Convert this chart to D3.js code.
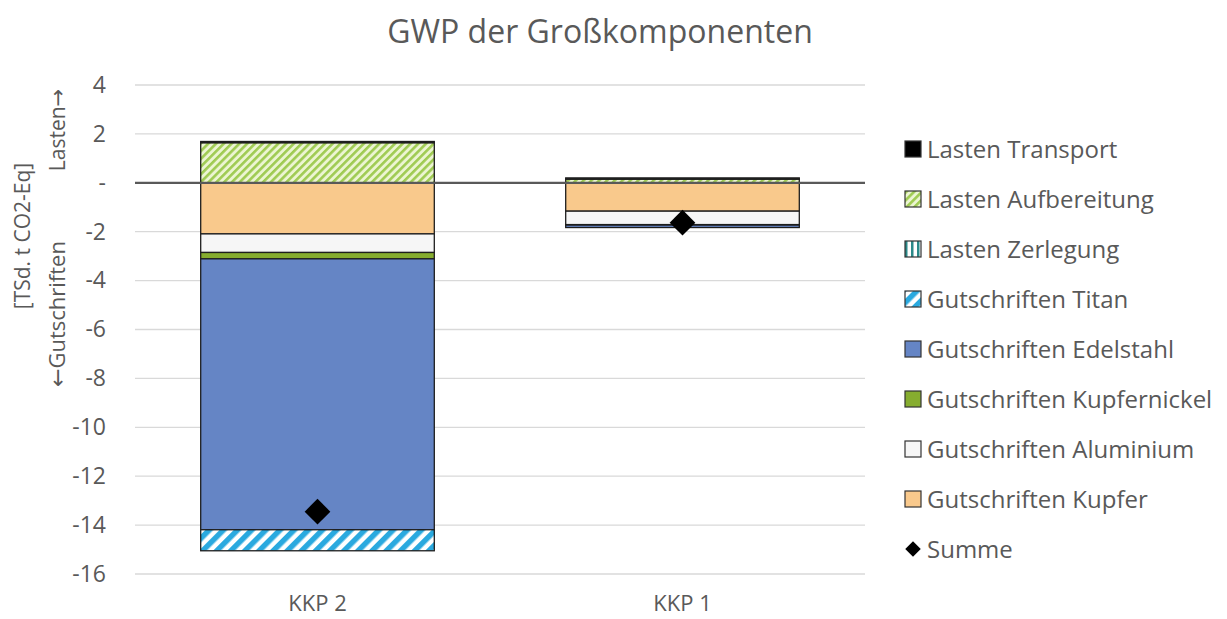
<!DOCTYPE html>
<html lang="de">
<head>
    <meta charset="UTF-8">
    <title>GWP der Großkomponenten</title>
    <script src="https://cdn.jsdelivr.net/npm/d3@7/dist/d3.min.js"></script>
    <style>
        body { margin: 0; background: #fff; }
        text { font-family: "Open Sans", sans-serif; fill: #595959; }
        .arrow { font-family: "DejaVu Sans", sans-serif; }
    </style>
</head>
<body>
    <div class="chart"></div>
</body>
<script>
    const categories = ['KKP 2', 'KKP 1']
    // stacking order = Excel series order (first one sits next to zero)
    const gutschriftenKupfer = [-2.09, -1.16]
    const gutschriftenAluminium = [-0.76, -0.55]
    const gutschriftenKupfernickel = [-0.26, -0.02]
    const gutschriftenEdelstahl = [-11.08, -0.1]
    const gutschriftenTitan = [-0.86, 0]
    const lastenZerlegung = [0, 0]
    const lastenAufbereitung = [1.64, 0.15]
    const lastenTransport = [0.05, 0.05]
    const summe = [-13.45, -1.63]
    const yTicks = [4, 2, 0, -2, -4, -6, -8, -10, -12, -14, -16]

    const series = [
        { key: 'Gutschriften Kupfer', values: gutschriftenKupfer, fill: '#f9c98c' },
        { key: 'Gutschriften Aluminium', values: gutschriftenAluminium, fill: '#f6f6f6' },
        { key: 'Gutschriften Kupfernickel', values: gutschriftenKupfernickel, fill: '#86ad2f' },
        { key: 'Gutschriften Edelstahl', values: gutschriftenEdelstahl, fill: '#6585c5' },
        { key: 'Gutschriften Titan', values: gutschriftenTitan, fill: 'url(#hatch-titan)' },
        { key: 'Lasten Zerlegung', values: lastenZerlegung, fill: 'url(#hatch-zerlegung)' },
        { key: 'Lasten Aufbereitung', values: lastenAufbereitung, fill: 'url(#hatch-aufbereitung)' },
        { key: 'Lasten Transport', values: lastenTransport, fill: '#000' }
    ]

    const width = 1227
    const height = 619
    const plot = { left: 135, right: 865, top: 85, bottom: 574 }

    const svg = d3.select('.chart')
        .append('svg')
        .attr('width', width)
        .attr('height', height)

    // hatch patterns
    const defs = svg.append('defs')
    function hatch(id, bg, fg, size, stripe, angle) {
        const p = defs.append('pattern')
            .attr('id', id)
            .attr('patternUnits', 'userSpaceOnUse')
            .attr('width', size)
            .attr('height', size)
            .attr('patternTransform', `rotate(${angle})`)
        p.append('rect').attr('width', size).attr('height', size).attr('fill', bg)
        p.append('rect').attr('width', stripe).attr('height', size).attr('fill', fg)
    }
    hatch('hatch-aufbereitung', '#ecf5d2', '#9fcb52', 5.5, 2.6, 45)
    hatch('hatch-titan', '#ffffff', '#2aa9df', 10, 5.5, 45)
    hatch('hatch-zerlegung', '#ffffff', '#2b8a8a', 6, 2.5, 0)

    const x = d3.scaleBand()
        .domain(categories)
        .range([plot.left, plot.right])
        .paddingInner(0.36)
        .paddingOuter(0.18)

    const y = d3.scaleLinear()
        .domain([-16, 4])
        .range([plot.bottom, plot.top])

    // title
    svg.append('text')
        .attr('x', 600)
        .attr('y', 43)
        .attr('text-anchor', 'middle')
        .attr('font-size', '32px')
        .text('GWP der Großkomponenten')

    // gridlines
    svg.append('g')
        .selectAll('line')
        .data(yTicks.filter(d => d !== 0))
        .join('line')
        .attr('x1', plot.left)
        .attr('x2', plot.right)
        .attr('y1', d => y(d))
        .attr('y2', d => y(d))
        .attr('stroke', '#d9d9d9')
        .attr('stroke-width', 1.3)

    // y axis labels
    const yAxis = svg.append('g')
        .attr('transform', `translate(${plot.left - 29}, 0)`)
        .call(d3.axisLeft(y).tickValues(yTicks).tickSize(0).tickPadding(0).tickFormat(d => d === 0 ? '-' : String(d)))
    yAxis.select('.domain').remove()
    yAxis.selectAll('text')
        .attr('font-size', '23px')
        .attr('font-family', '"Open Sans", sans-serif')
        .attr('fill', '#595959')

    // axis title (two rotated lines)
    svg.append('text')
        .attr('transform', 'translate(30, 236) rotate(-90)')
        .attr('text-anchor', 'middle')
        .attr('font-size', '21px')
        .text('[TSd. t CO2-Eq]')
    const lasten = svg.append('text')
        .attr('transform', 'translate(65, 130) rotate(-90)')
        .attr('text-anchor', 'middle')
        .attr('font-size', '21px')
    lasten.append('tspan').text('Lasten')
    lasten.append('tspan').attr('class', 'arrow').text('→')
    const gut = svg.append('text')
        .attr('transform', 'translate(65, 314) rotate(-90)')
        .attr('text-anchor', 'middle')
        .attr('font-size', '22px')
    gut.append('tspan').attr('class', 'arrow').text('←')
    gut.append('tspan').text('Gutschriften')

    // stacked bars
    const table = categories.map((c, i) => {
        const row = { category: c }
        series.forEach(s => { row[s.key] = s.values[i] })
        return row
    })
    const stack = d3.stack()
        .keys(series.map(s => s.key))
        .offset(d3.stackOffsetDiverging)
    const stacked = stack(table)

    svg.append('g')
        .selectAll('g')
        .data(stacked)
        .join('g')
        .attr('fill', (d, i) => series[i].fill)
        .selectAll('rect')
        .data(d => d.filter(p => p[1] - p[0] !== 0))
        .join('rect')
        .attr('x', d => x(d.data.category))
        .attr('width', x.bandwidth())
        .attr('y', d => y(d[1]))
        .attr('height', d => y(d[0]) - y(d[1]))
        .attr('stroke', '#1e1e1e')
        .attr('stroke-width', 1.3)

    // zero line
    svg.append('line')
        .attr('x1', plot.left)
        .attr('x2', plot.right)
        .attr('y1', y(0))
        .attr('y2', y(0))
        .attr('stroke', '#595959')
        .attr('stroke-width', 2.2)

    // Summe markers
    const diamond = d3.symbol().type(d3.symbolSquare).size(330)
    svg.append('g')
        .selectAll('path')
        .data(summe)
        .join('path')
        .attr('d', diamond)
        .attr('transform', (d, i) => `translate(${x(categories[i]) + x.bandwidth() / 2}, ${y(d)}) rotate(45)`)
        .attr('fill', '#000')

    // category labels
    svg.append('g')
        .selectAll('text')
        .data(categories)
        .join('text')
        .attr('x', d => x(d) + x.bandwidth() / 2)
        .attr('y', 611)
        .attr('text-anchor', 'middle')
        .attr('font-size', '22px')
        .text(d => d)

    // legend (reverse of stacking order, then Summe)
    const legendItems = series.slice().reverse()
    const legend = svg.append('g')
        .selectAll('g')
        .data(legendItems)
        .join('g')
        .attr('transform', (d, i) => `translate(905, ${149 + i * 50})`)
    legend.append('rect')
        .attr('x', 0)
        .attr('y', -8)
        .attr('width', 16)
        .attr('height', 16)
        .attr('fill', d => d.fill)
        .attr('stroke', '#333')
        .attr('stroke-width', 1.2)
    legend.append('text')
        .attr('x', 22)
        .attr('y', 8.5)
        .attr('font-size', '24px')
        .text(d => d.key)

    const summeLegend = svg.append('g')
        .attr('transform', `translate(905, ${149 + legendItems.length * 50})`)
    summeLegend.append('path')
        .attr('d', d3.symbol().type(d3.symbolSquare).size(120))
        .attr('transform', 'translate(8, 0) rotate(45)')
        .attr('fill', '#000')
    summeLegend.append('text')
        .attr('x', 22)
        .attr('y', 8.5)
        .attr('font-size', '24px')
        .text('Summe')
</script>
</html>
